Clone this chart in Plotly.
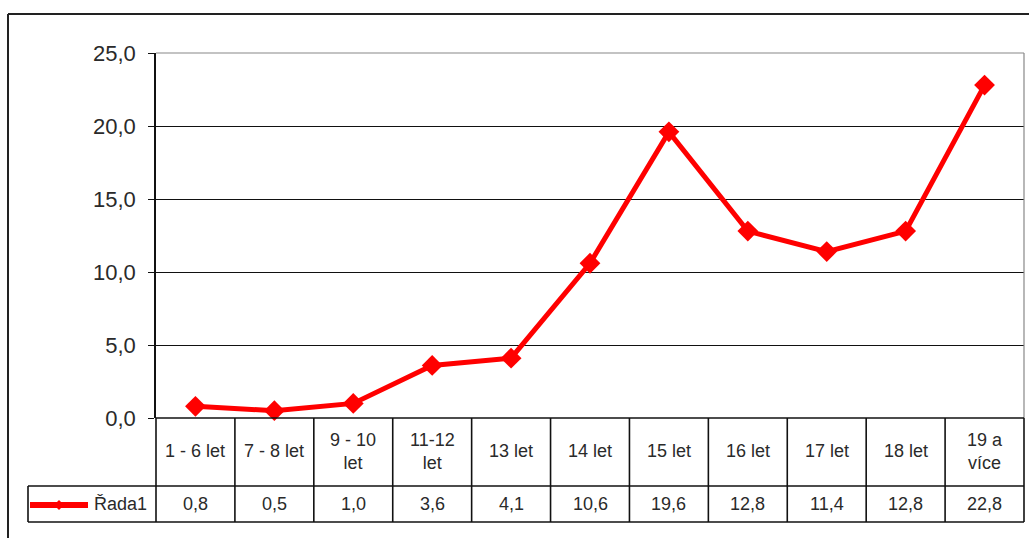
import plotly.graph_objects as go

categories = ["1 - 6 let", "7 - 8 let", "9 - 10<br>let", "11-12<br>let", "13 let", "14 let",
              "15 let", "16 let", "17 let", "18 let", "19 a<br>více"]
values = [0.8, 0.5, 1.0, 3.6, 4.1, 10.6, 19.6, 12.8, 11.4, 12.8, 22.8]
series_name = "Řada1"
y_ticks = [0, 5, 10, 15, 20, 25]

W, H = 1029, 538
L, R, T, B = 156, 5, 53, 120
PW, PH = W - L - R, H - T - B
RED = "#ff0000"
FONT = "Liberation Sans, Arial, sans-serif"
TXT = "#2a2a2a"

def px(x):  # pixel -> paper x
    return (x - L) / PW

def py(y):  # pixel -> paper y
    return (H - B - y) / PH

n = len(categories)
fig = go.Figure()
fig.add_trace(go.Scatter(
    x=list(range(n)), y=values, mode="lines+markers",
    line=dict(color=RED, width=5),
    marker=dict(symbol="diamond", size=16, color=RED),
    name=series_name, showlegend=False, cliponaxis=False,
))

shapes = []
line = dict(color="#111", width=1.6)
y0, y_hdr, y_row = py(418), py(486), py(522)
# plot area top border and zero line
shapes.append(dict(type="line", xref="paper", yref="paper", x0=0, x1=1, y0=1, y1=1,
                   line=dict(color="#888", width=1.2)))
shapes.append(dict(type="line", xref="paper", yref="paper", x0=1, x1=1, y0=0, y1=1,
                   line=dict(color="#888", width=1.2)))
shapes.append(dict(type="line", xref="paper", yref="paper", x0=0, x1=1, y0=y0, y1=y0, line=line))
# table horizontal lines
shapes.append(dict(type="line", xref="paper", yref="paper", x0=px(28), x1=1, y0=y_hdr, y1=y_hdr, line=line))
shapes.append(dict(type="line", xref="paper", yref="paper", x0=px(28), x1=1, y0=y_row, y1=y_row, line=line))
# table vertical lines
for i in range(n + 1):
    xv = i / n
    shapes.append(dict(type="line", xref="paper", yref="paper", x0=xv, x1=xv, y0=y0, y1=y_row, line=line))
shapes.append(dict(type="line", xref="paper", yref="paper", x0=px(28), x1=px(28), y0=y_hdr, y1=y_row, line=line))
# legend key in table
ly = py(505)
shapes.append(dict(type="line", xref="paper", yref="paper", x0=px(30), x1=px(88), y0=ly, y1=ly,
                   line=dict(color=RED, width=6)))
cx, cy = 59, 505
shapes.append(dict(type="path", xref="paper", yref="paper",
                   path=f"M {px(cx-5)} {py(cy)} L {px(cx)} {py(cy-5)} L {px(cx+5)} {py(cy)} L {px(cx)} {py(cy+5)} Z",
                   fillcolor=RED, line=dict(color=RED, width=0)))
# outer frame (left + top)
shapes.append(dict(type="line", xref="paper", yref="paper", x0=px(8), x1=px(8), y0=py(540), y1=py(14),
                   line=dict(color="#222", width=2)))
shapes.append(dict(type="line", xref="paper", yref="paper", x0=px(8), x1=px(1031), y0=py(14), y1=py(14),
                   line=dict(color="#222", width=2)))

annotations = []
for i, (c, v) in enumerate(zip(categories, values)):
    annotations.append(dict(x=i, y=py(451), xref="x", yref="paper", text=c, showarrow=False,
                            xanchor="center", yanchor="middle",
                            font=dict(family=FONT, size=18, color=TXT), align="center"))
    annotations.append(dict(x=i, y=py(504), xref="x", yref="paper", text=f"{v:.1f}".replace(".", ","),
                            showarrow=False, xanchor="center", yanchor="middle",
                            font=dict(family=FONT, size=18, color=TXT)))
annotations.append(dict(x=px(149), y=py(504), xref="paper", yref="paper", text=series_name, showarrow=False,
                        xanchor="right", yanchor="middle", font=dict(family=FONT, size=18, color=TXT)))

fig.update_layout(
    width=W, height=H, margin=dict(l=L, r=R, t=T, b=B),
    paper_bgcolor="white", plot_bgcolor="white",
    separators=", ",
    shapes=shapes, annotations=annotations,
    xaxis=dict(range=[-0.5, n - 0.5], showticklabels=False, showgrid=False, zeroline=False,
               showline=False, ticks=""),
    yaxis=dict(range=[0, 25], tickvals=y_ticks, tickformat=".1f", showgrid=True, gridcolor="#111",
               gridwidth=1.2, zeroline=False, showline=True, linecolor="#111", linewidth=1.6,
               ticks="outside", ticklen=6, tickcolor="#111", ticklabelstandoff=8,
               tickfont=dict(family=FONT, size=22, color=TXT)),
    showlegend=False,
)
fig.write_html("out.html")
